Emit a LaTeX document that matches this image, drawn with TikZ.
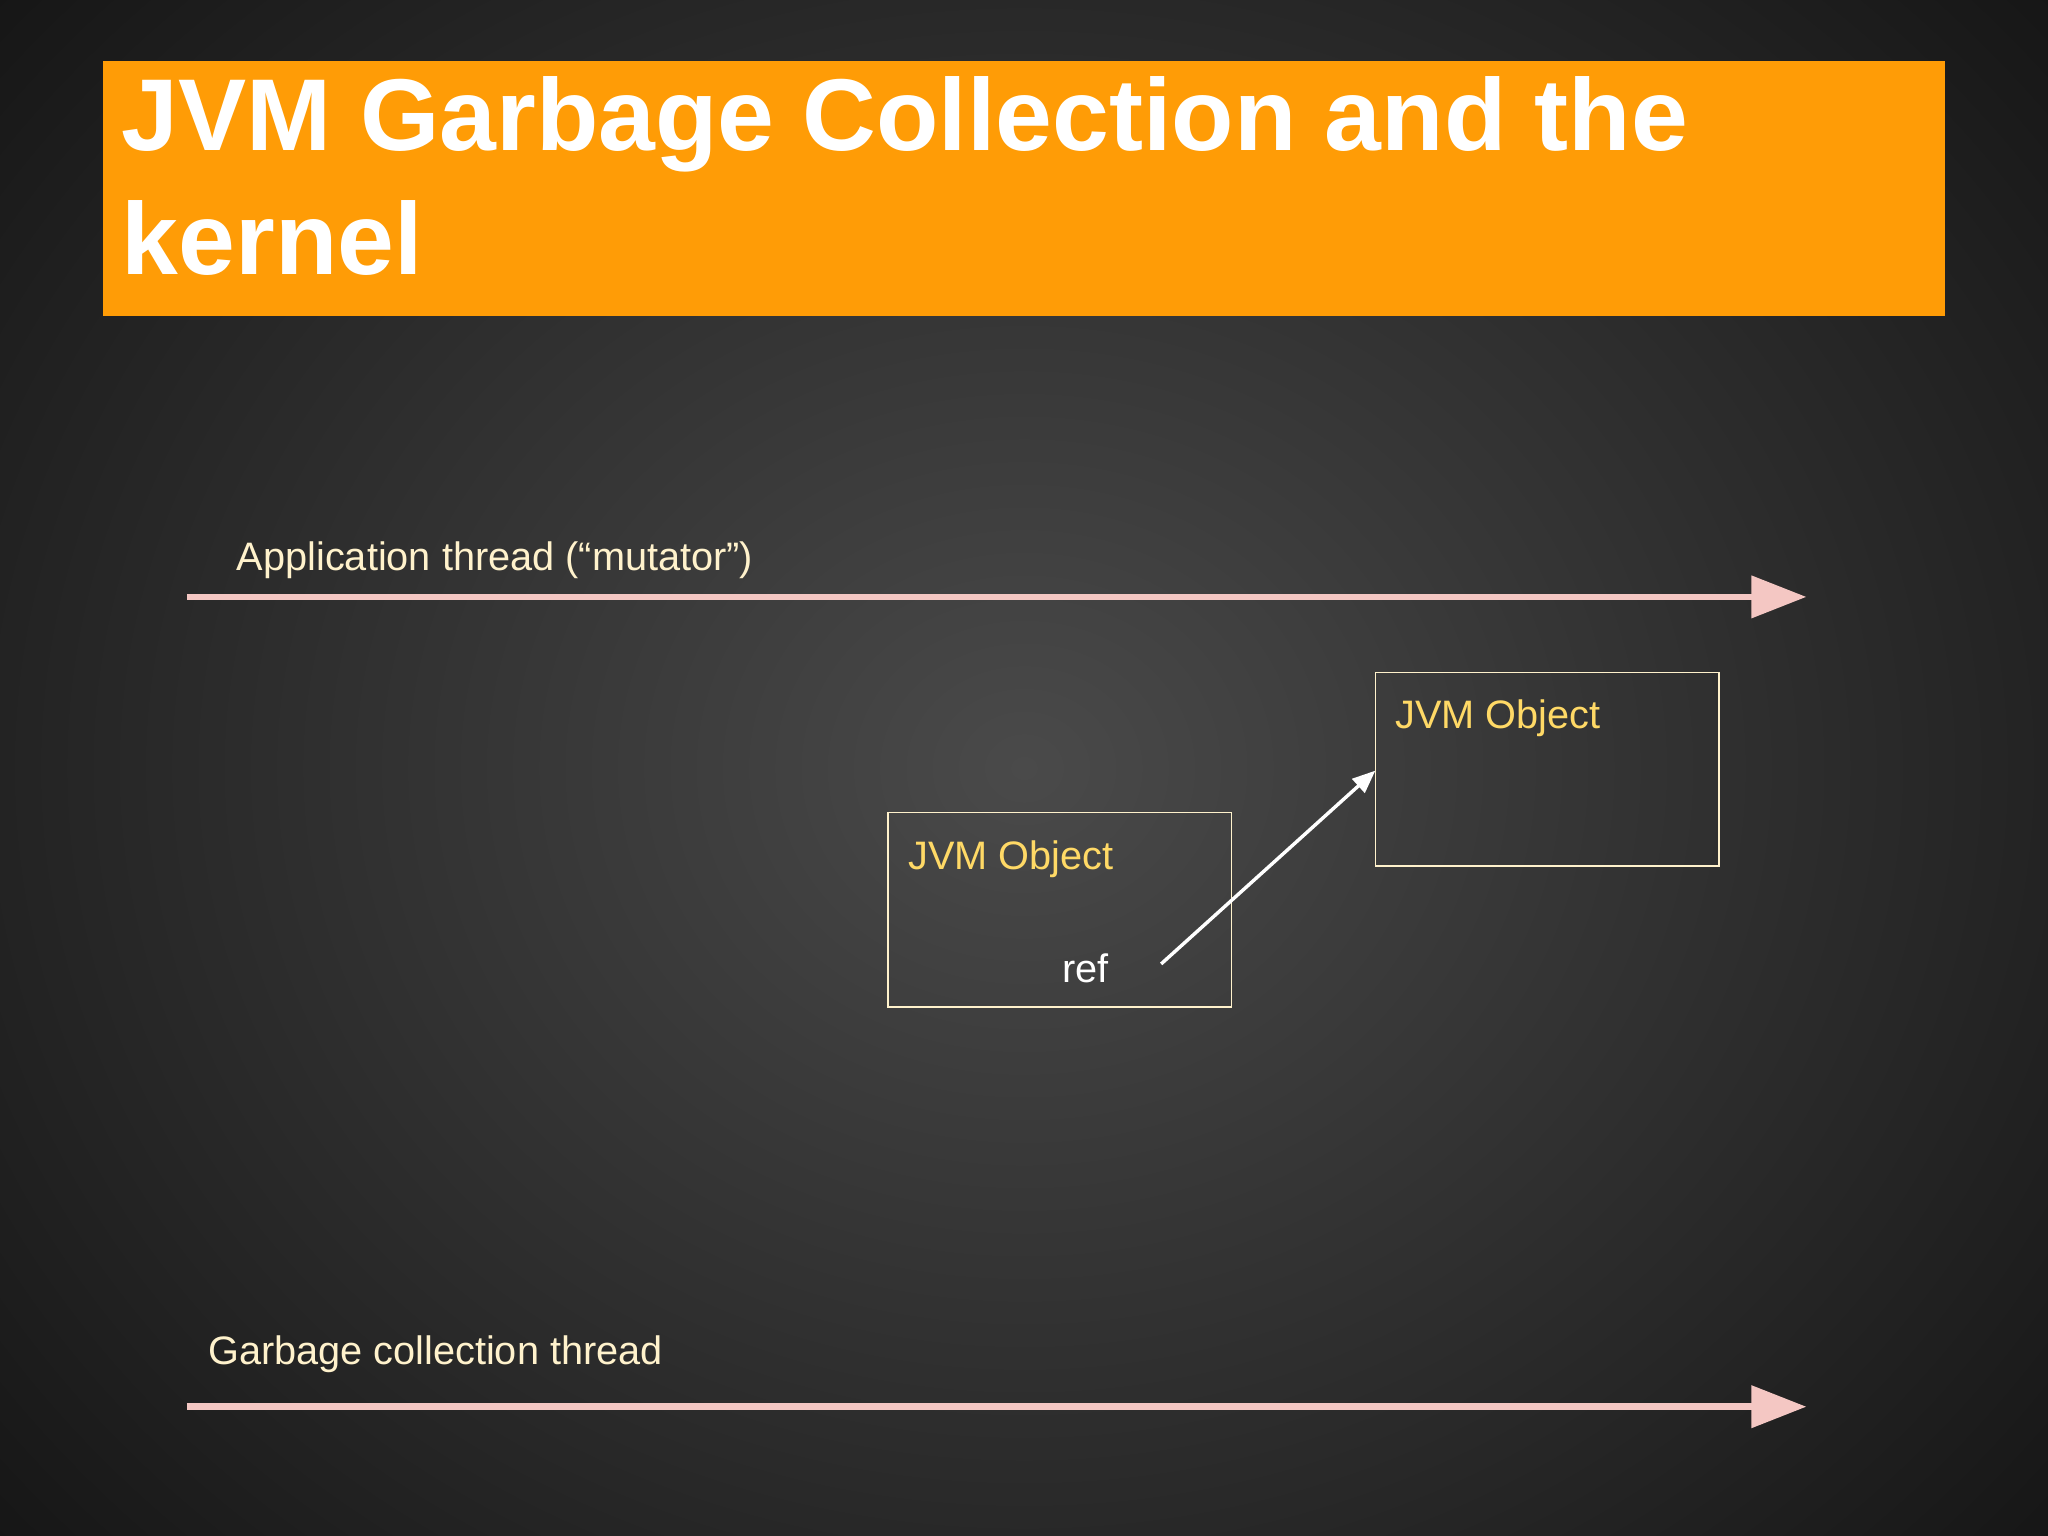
\documentclass[tikz,border=0pt]{standalone}
\usepackage{fontspec}
\setmainfont{Liberation Sans}
\usetikzlibrary{arrows.meta}
\definecolor{orangeT}{HTML}{FF9C06}
\definecolor{pinkL}{HTML}{F4C7C3}
\definecolor{creamT}{HTML}{FFF2CC}
\definecolor{yellowT}{HTML}{FFD966}
\begin{document}
\begin{tikzpicture}[x=0.02cm,y=-0.02cm,
  thread/.style={draw=pinkL,line width=2.8pt,-{Triangle[length=24pt,width=18pt]}},
  lbl/.style={anchor=base west,inner sep=0pt,text=creamT,font=\fontsize{17.3}{20}\selectfont},
  objbox/.style={draw=creamT,line width=0.7pt},
  objlbl/.style={anchor=base west,inner sep=0pt,text=yellowT,font=\fontsize{17.3}{20}\selectfont},
  ttl/.style={anchor=base west,inner sep=0pt,text=white,font=\fontsize{44.5}{54}\bfseries\selectfont}]
\useasboundingbox (0,0) rectangle (1568,1176);
\shade[inner color={rgb,255:red,74;green,74;blue,74},outer color={rgb,255:red,20;green,20;blue,20}] (-300,-350) rectangle (1868,1526);
\fill[orangeT] (79,47) rectangle (1489,242);
\node[ttl] (title1) at (93,115) {JVM Garbage Collection and the};
\node[ttl] (title2) at (93,210) {kernel};
% threads
\coordinate (a1) at (143,457); \coordinate (a2) at (1383,457);
\draw[thread] (a1) -- (a2);
\node[lbl] (alab) at (181,437) {Application thread (“mutator”)};
\coordinate (g1) at (143,1077); \coordinate (g2) at (1383,1077);
\draw[thread] (g1) -- (g2);
\node[lbl] (glab) at (159,1045) {Garbage collection thread};
% objects
\draw[objbox] (680,622) rectangle (943,771);
\node[objlbl] (o1) at (695,666) {JVM Object};
\node[anchor=base west,inner sep=0pt,text=white,font=\fontsize{17.3}{20}\selectfont] (ref) at (813,752) {ref};
\draw[objbox] (1053,515) rectangle (1316,663);
\coordinate (o2w) at (1053,590);
\node[objlbl] (o2) at (1068,558) {JVM Object};
\coordinate (rs) at (889,738);
\draw[white,line width=1.5pt,-{Triangle[length=10pt,width=8pt]}] (rs) -- (o2w);
\end{tikzpicture}
\end{document}
